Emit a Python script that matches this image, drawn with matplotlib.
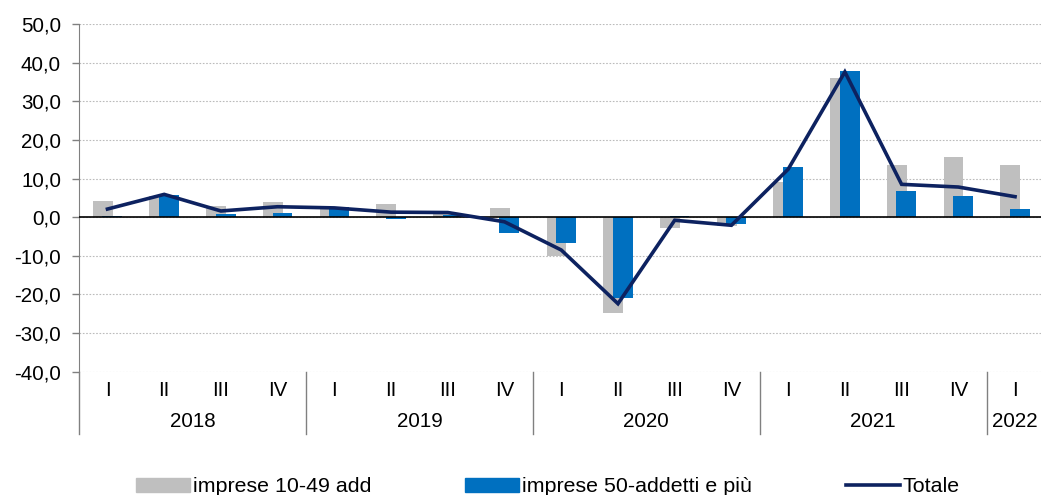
import matplotlib.pyplot as plt
import numpy as np
from matplotlib.patches import Patch
from matplotlib.lines import Line2D

plt.rcParams['font.family'] = ['Liberation Sans', 'DejaVu Sans']

quarters = ["I", "II", "III", "IV"] * 4 + ["I"]
years = ["2018", "2019", "2020", "2021", "2022"]
year_len = [4, 4, 4, 4, 1]

small = [4.3, 5.5, 2.8, 3.9, 2.3, 3.4, 1.0, 2.3, -10.1, -24.9, -2.8, -2.3,
         9.1, 36.1, 13.5, 15.5, 13.6]
large = [0.3, 5.7, 0.8, 1.2, 2.6, -0.4, 0.5, -4.0, -6.6, -20.9, 0.3, -1.8,
         12.9, 37.8, 6.9, 5.6, 2.2]
totale = [2.1, 5.9, 1.6, 2.7, 2.4, 1.3, 1.2, -1.2, -8.5, -22.4, -0.8, -2.1,
          12.4, 37.6, 8.5, 7.8, 5.3]

c_gray = "#BFBFBF"
c_blue = "#0070C0"
c_line = "#0D2260"
fs = 14.8

fig = plt.figure(figsize=(10.41, 4.95), dpi=100)
ax = fig.add_axes([79.1 / 1041, 1 - 371.7 / 495, (1043.4 - 79.1) / 1041, (371.7 - 24) / 495])

x = np.arange(len(small))
w = 0.35
ax.bar(x - 0.085, small, w, color=c_gray, zorder=2)
ax.bar(x + 0.085, large, w, color=c_blue, zorder=3)
ax.axhline(0, color="black", lw=1.2, zorder=4)
ax.plot(x, totale, color=c_line, lw=2.6, zorder=5, solid_joinstyle="miter")

ax.set_xlim(-0.5, len(small) - 0.5)
ax.set_ylim(-40, 50)
ax.set_yticks(np.arange(-40, 51, 10))
ax.set_yticklabels([("%.1f" % v).replace(".", ",") for v in np.arange(-40, 51, 10)], fontsize=fs)
ax.yaxis.grid(True, color="#BBBBBB", linestyle=(0, (1.5, 1.5)), lw=0.8)
ax.set_axisbelow(True)
ax.tick_params(axis="y", length=5, width=1, color="#808080", pad=8)
ax.tick_params(axis="x", length=0, labelbottom=False)

for s in ["top", "right", "bottom"]:
    ax.spines[s].set_visible(False)
ax.spines["left"].set_color("#808080")

trans = ax.get_xaxis_transform()
for i, q in enumerate(quarters):
    ax.text(i, -0.053, q, transform=trans, ha="center", va="center", fontsize=fs)

start = 0
for yr, n in zip(years, year_len):
    ax.text(start + (n - 1) / 2, -0.144, yr, transform=trans, ha="center", va="center", fontsize=fs)
    ax.plot([start - 0.5, start - 0.5], [0, -0.18], transform=trans, color="#808080",
            lw=1, clip_on=False)
    start += n

handles = [Patch(color=c_gray), Patch(color=c_blue), Line2D([], [], color=c_line, lw=2.6)]
labels = ["imprese 10-49 add", "imprese 50-addetti e più", "Totale"]
fig.legend(handles, labels, loc="center", bbox_to_anchor=(548 / 1041, 1 - 487 / 495), ncol=3,
           frameon=False, fontsize=15.4, handlelength=2.5, handleheight=0.65,
           handletextpad=0.15, columnspacing=4.4, borderpad=0)

fig.savefig("out.png", dpi=100)
